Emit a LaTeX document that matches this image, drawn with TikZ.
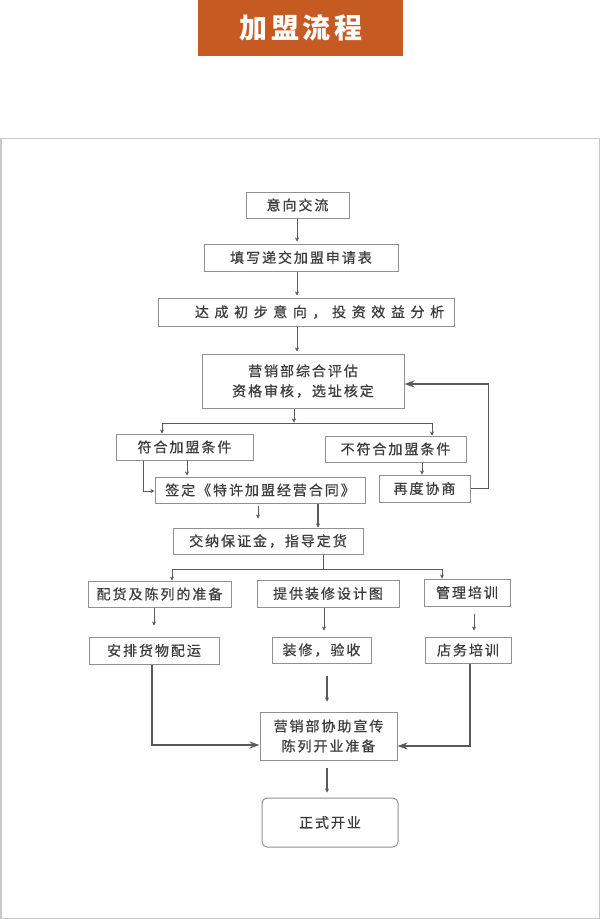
\documentclass[tikz,border=0pt]{standalone}
\usepackage{fontspec}
\newfontfamily\cjk[LetterSpace=14,FakeBold=0.6]{Noto Sans CJK SC}
\newfontfamily\cjktitle[LetterSpace=12]{Noto Sans CJK SC}
\usetikzlibrary{arrows.meta,calc}
\definecolor{banner}{HTML}{C55A22}
\definecolor{txt}{HTML}{3C3C3C}
\definecolor{bord}{HTML}{909090}
\definecolor{lin}{HTML}{5A5A5A}
\definecolor{frame}{HTML}{C8C8C8}
\tikzset{
  box/.style={draw=bord, line width=1pt, fill=white, inner sep=0pt, text=txt,
    font=\cjk\fontsize{14}{20}\selectfont, align=center},
  thinarr/.style={draw=lin, line width=1pt, -{Stealth[length=4pt,width=4pt]}},
  thinln/.style={draw=lin, line width=1pt},
  thickarr/.style={draw=lin, line width=1.8pt, -{Stealth[length=10pt,width=7pt]}},
}
\begin{document}
\begin{tikzpicture}[x=1pt,y=-1pt]
\useasboundingbox (0,0) rectangle (600,919);
% banner
\fill[banner] (198,0) rectangle (403,56);
\node[text=white, font=\cjktitle\bfseries\fontsize{28}{30}\selectfont] (title) at (301,28) {加盟流程};
% frame
\draw[frame, line width=1.5pt] (0.75,138.5) rectangle (599.25,918.25);
% boxes
\node[box, minimum width=103, minimum height=26] (a) at (297.5,205) {意向交流};
\node[box, minimum width=194, minimum height=27] (b) at (301,257.5) {填写递交加盟申请表};
\node[box, minimum width=296, minimum height=28] (c) at (306,312) {\hspace*{27pt}\addfontfeature{LetterSpace=40}达成初步意向，投资效益分析};
\node[box, minimum width=202, minimum height=54] (d) at (303,381) {营销部综合评估\\资格审核，选址核定};
\node[box, minimum width=137, minimum height=26] (e) at (184.5,447) {符合加盟条件};
\node[box, minimum width=141, minimum height=26] (f) at (395.5,449) {不符合加盟条件};
\node[box, minimum width=210, minimum height=26] (g) at (260,490) {签定《特许加盟经营合同》};
\node[box, minimum width=91, minimum height=27] (h) at (424.5,488.5) {再度协商};
\node[box, minimum width=190, minimum height=26] (i) at (268,541) {交纳保证金，指导定货};
\node[box, minimum width=143, minimum height=26] (j) at (159.5,594) {配货及陈列的准备};
\node[box, minimum width=142, minimum height=27] (k) at (328,593.5) {提供装修设计图};
\node[box, minimum width=86, minimum height=27] (l) at (467,592.5) {管理培训};
\node[box, minimum width=130, minimum height=27] (m) at (154,650.5) {安排货物配运};
\node[box, minimum width=99, minimum height=26] (n) at (321.5,650) {装修，验收};
\node[box, minimum width=86, minimum height=26] (o) at (468,650) {店务培训};
\node[box, minimum width=137, minimum height=48] (p) at (328.5,736) {营销部协助宣传\\陈列开业准备};
\node[box, minimum width=136, minimum height=49, rounded corners=5pt] (q) at (330,822.5) {正式开业};
% connectors
\draw[thinarr, shorten >=2pt] ([xshift=-0.5pt]a.south) -- ([xshift=-0.5pt]a.south |- b.north);
\draw[thinarr, shorten >=2pt] ([xshift=-4pt]b.south) -- ([xshift=-4pt]b.south |- c.north);
\draw[thinarr, shorten >=2pt] ([xshift=-9pt]c.south) -- ([xshift=-9pt]c.south |- d.north);
\coordinate (dsplit) at ([xshift=-9pt,yshift=-15pt]d.south);
\draw[thinarr, shorten >=1pt] ([xshift=-9pt]d.south) -- (dsplit);
\draw[thinarr] (dsplit) -| ([xshift=-22.5pt]e.north);
\draw[thinarr] (dsplit) -| ([xshift=36.5pt]f.north);
\draw[thinarr] ([xshift=-41.5pt]e.south) |- ([yshift=-1pt]g.west);
\draw[thinarr, shorten >=1pt] ([xshift=2.5pt]e.south) -- ([xshift=2.5pt]e.south |- g.north);
\draw[thinarr] ([xshift=26.5pt]f.south) -- ([xshift=26.5pt]f.south |- h.north);
\draw[thickarr] (h.east) -- ++(18,0) |- ([yshift=-3pt]d.east);
\draw[thinarr, shorten <=2pt] ([xshift=-2pt]g.south) -- ++(0,15);
\draw[thinarr, line width=1.2pt] ([xshift=58pt]g.south) -- ([xshift=58pt]g.south |- i.north);
\coordinate (isplit) at ([xshift=55pt,yshift=-15pt]i.south);
\draw[thinln] ([xshift=55pt]i.south) -- (isplit);
\draw[thinarr] (isplit) -| ([xshift=12.5pt]j.north);
\draw[thinarr] (isplit) -| ([xshift=-25pt]l.north);
\draw[thinarr] ([xshift=-5.5pt]j.south) -- ++(0,18);
\draw[thinarr] ([xshift=-4pt]k.south) -- ++(0,23);
\draw[thinarr, shorten <=7pt] ([xshift=7pt]l.south) -- ++(0,24);
\draw[thickarr] ([xshift=-2pt]m.south) |- ([yshift=-9pt]p.west);
\draw[thinarr, line width=1.2pt, shorten <=12pt, shorten >=10pt] ([xshift=5.5pt]n.south) -- ([xshift=5.5pt]n.south |- p.north);
\draw[thickarr] ([xshift=2pt]o.south) |- ([yshift=-10pt]p.east);
\draw[thinarr, line width=1.2pt, shorten <=7pt, shorten >=5pt] ([xshift=-1.5pt]p.south) -- ([xshift=-1.5pt]p.south |- q.north);
\end{tikzpicture}
\end{document}
